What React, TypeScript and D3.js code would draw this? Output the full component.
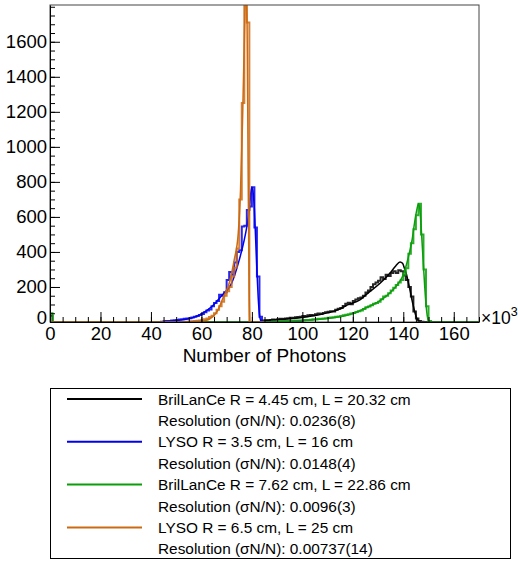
import React, { useEffect, useRef } from "react";
import * as d3 from "d3";

// x in thousands of photons, 1k bins; each histogram = start bin + counts
const blackStart = 84;
const blackCounts = [8, 10, 9, 12, 14, 13, 16, 18, 17, 20, 22, 24, 23, 27, 28, 30, 34, 33, 38, 40, 39, 44, 48, 46, 52, 55, 58, 62, 60, 70, 75, 80, 92, 104, 110, 102, 120, 128, 135, 140, 150, 168, 180, 200, 215, 225, 235, 255, 245, 270, 262, 280, 290, 280, 295, 290, 265, 240, 200, 145, 60, 20, 5, 2];
const blueStart = 44;
const blueCounts = [2, 4, 5, 6, 8, 10, 12, 14, 16, 18, 20, 22, 26, 30, 34, 40, 46, 55, 66, 72, 90, 108, 120, 155, 150, 170, 240, 285, 270, 340, 400, 410, 545, 550, 640, 660, 770, 540, 260, 30];
const greenStart = 88;
const greenCounts = [3, 3, 4, 4, 5, 5, 6, 6, 7, 8, 8, 9, 10, 11, 12, 13, 15, 16, 18, 19, 20, 22, 24, 25, 27, 30, 32, 34, 38, 41, 44, 48, 51, 57, 62, 66, 74, 84, 88, 96, 104, 108, 116, 130, 145, 150, 164, 180, 195, 211, 225, 240, 270, 307, 390, 450, 530, 610, 675, 500, 300, 90, 5];
const orangeStart = 54;
const orangeCounts = [2, 3, 4, 5, 7, 9, 12, 16, 20, 28, 36, 50, 70, 90, 115, 150, 175, 200, 260, 310, 420, 700, 1250, 1900, 1710];
// counts in the first bin (near 0)
const blackBin0 = 35;
const greenBin0 = 50;

// fitted curves, [x (k photons), counts]
const blackFit = [[85, 8], [90, 13], [95, 19], [100, 26], [105, 37], [110, 52], [115, 75], [117.5, 95], [122.8, 126], [126, 165], [130.8, 221], [134.7, 278], [137, 320], [138.7, 343], [139.7, 335], [140.5, 305], [141.3, 270], [142, 225], [142.7, 180], [143.3, 135], [144, 90], [144.7, 50], [145.3, 22], [146, 7], [147, 0]];
const blueFit = [[45, 3], [50, 8], [55, 18], [58, 32], [61, 55], [64, 87], [68, 150], [72, 222], [75, 355], [77, 470], [78, 545], [79, 640], [79.6, 740], [80, 770], [80.4, 750], [81, 640], [81.5, 470], [82, 290], [82.5, 140], [83, 45], [83.5, 8], [84, 0]];
const greenFit = [[90, 4], [100, 8], [110, 20], [120, 48], [125, 80], [130, 115], [135, 170], [138, 220], [140, 270], [142, 370], [143.5, 470], [144.5, 570], [145.5, 650], [146, 675], [146.5, 650], [147, 560], [147.5, 440], [148, 320], [148.5, 200], [149, 100], [149.5, 35], [150, 5], [150.5, 0]];
const orangeFit = [[55, 1], [59, 5], [62, 10], [63.5, 20], [65.5, 45], [66.7, 72], [68.5, 135], [71, 221], [73, 354], [74.6, 506], [75.5, 750], [76.3, 1150], [77, 1600], [77.6, 1900], [78.1, 1700], [78.5, 900], [78.9, 200], [79.2, 0]];

const legendNames = [
  "BrilLanCe R = 4.45 cm, L = 20.32 cm",
  "LYSO R = 3.5 cm, L = 16 cm",
  "BrilLanCe R = 7.62 cm, L = 22.86 cm",
  "LYSO R = 6.5 cm, L = 25 cm",
];
const legendRes = ["0.0236(8)", "0.0148(4)", "0.0096(3)", "0.00737(14)"];
const colors = ["#000000", "#0000ee", "#0a9e0a", "#cc6a12"];

const font = "'Liberation Sans', Arial, Helvetica, sans-serif";

const App = () => {
  const ref = useRef(null);

  useEffect(() => {
    const svg = d3.select(ref.current);
    svg.selectAll("*").remove();

    const left = 50, right = 479, top = 5, bottom = 322;
    const x = d3.scaleLinear().domain([0, 170]).range([left, right]);
    const y = d3.scaleLinear().domain([0, 1810]).range([bottom, top]);

    svg.append("defs").append("clipPath").attr("id", "plotclip")
      .append("rect").attr("x", left).attr("y", top)
      .attr("width", right - left).attr("height", bottom - top);

    const plot = svg.append("g").attr("clip-path", "url(#plotclip)");

    const histPoints = (start, counts, lo, hi, bin0) => {
      const pts = [[lo, bin0 || 0], [lo + 1, 0], [start, 0]];
      counts.forEach((c, i) => pts.push([start + i, c]));
      pts.push([start + counts.length, 0]);
      pts.push([hi, 0]);
      return pts;
    };

    const stepLine = d3.line()
      .x((d) => x(d[0]))
      .y((d) => y(d[1]))
      .curve(d3.curveStepAfter);
    const fitLine = d3.line()
      .x((d) => x(d[0]))
      .y((d) => y(d[1]))
      .curve(d3.curveMonotoneX);

    const hists = [
      histPoints(blackStart, blackCounts, 0, 170, blackBin0),
      histPoints(blueStart, blueCounts, 0, 100, 0),
      histPoints(greenStart, greenCounts, 0, 170, greenBin0),
      histPoints(orangeStart, orangeCounts, 0, 85, 0),
    ];
    const fits = [blackFit, blueFit, greenFit, orangeFit];

    hists.forEach((h, i) => {
      plot.append("path").attr("d", stepLine(h))
        .attr("fill", "none").attr("stroke", colors[i])
        .attr("stroke-opacity", 0.85).attr("stroke-width", 2);
      plot.append("path").attr("d", fitLine(fits[i]))
        .attr("fill", "none").attr("stroke", colors[i])
        .attr("stroke-width", 1.5);
    });

    // frame
    svg.append("rect").attr("x", left).attr("y", top)
      .attr("width", right - left).attr("height", bottom - top)
      .attr("fill", "none").attr("stroke", "#444").attr("stroke-width", 1);

    // x axis (ticks inside)
    const xMinor = svg.append("g").attr("transform", `translate(0,${bottom})`)
      .call(d3.axisBottom(x).tickValues(d3.range(0, 171, 5)).tickSizeInner(-5).tickSizeOuter(0).tickFormat(() => ""));
    xMinor.select(".domain").remove();
    const xAxis = svg.append("g").attr("transform", `translate(0,${bottom})`)
      .call(d3.axisBottom(x).tickValues(d3.range(0, 161, 20)).tickSizeInner(-10).tickSizeOuter(0).tickPadding(5));
    xAxis.select(".domain").attr("stroke", "#000");
    xAxis.selectAll("text").attr("font-size", 18.5).attr("font-family", font).attr("fill", "#000");

    // y axis (ticks inside)
    const yMinor = svg.append("g").attr("transform", `translate(${left},0)`)
      .call(d3.axisLeft(y).tickValues(d3.range(0, 1801, 50)).tickSizeInner(-5).tickSizeOuter(0).tickFormat(() => ""));
    yMinor.select(".domain").remove();
    const yAxis = svg.append("g").attr("transform", `translate(${left},0)`)
      .call(d3.axisLeft(y).tickValues(d3.range(0, 1601, 200)).tickSizeInner(-10).tickSizeOuter(0).tickPadding(3).tickFormat(d3.format("d")));
    yAxis.select(".domain").attr("stroke", "#000");
    yAxis.selectAll("text").attr("font-size", 18.5).attr("font-family", font).attr("fill", "#000");
    yAxis.selectAll(".tick").filter((d) => d === 0).select("text").attr("dy", "0.1em");

    // exponent
    const exp = svg.append("text").attr("x", 481).attr("y", 324)
      .attr("font-family", font).attr("font-size", 17.5).attr("fill", "#000");
    exp.append("tspan").text("\u00d710");
    exp.append("tspan").attr("font-size", 12.5).attr("dy", -8).text("3");

    // axis title
    svg.append("text").attr("x", (left + right) / 2).attr("y", 362)
      .attr("text-anchor", "middle").attr("font-family", font).attr("font-size", 19)
      .attr("fill", "#000").text("Number of Photons");

    // legend
    const lg = svg.append("g");
    lg.append("rect").attr("x", 50.5).attr("y", 388.5).attr("width", 460).attr("height", 170)
      .attr("fill", "#fff").attr("stroke", "#000").attr("stroke-width", 1);
    const rowH = 21.4;
    legendNames.forEach((name, i) => {
      const yc = 399 + i * 2 * rowH;
      lg.append("line").attr("x1", 67).attr("x2", 142).attr("y1", yc).attr("y2", yc)
        .attr("stroke", colors[i]).attr("stroke-width", 2);
      lg.append("text").attr("x", 158).attr("y", yc + 5.5)
        .attr("font-family", font).attr("font-size", 15.4).attr("fill", "#000").text(name);
      lg.append("text").attr("x", 158).attr("y", yc + rowH + 5.5)
        .attr("font-family", font).attr("font-size", 15.4).attr("fill", "#000")
        .text(`Resolution (\u03c3N/N): ${legendRes[i]}`);
    });
  }, []);

  return (
    <svg ref={ref} width={518} height={562}
      style={{ position: "absolute", left: 0, top: 0, background: "#fff" }} />
  );
};

export default App;
